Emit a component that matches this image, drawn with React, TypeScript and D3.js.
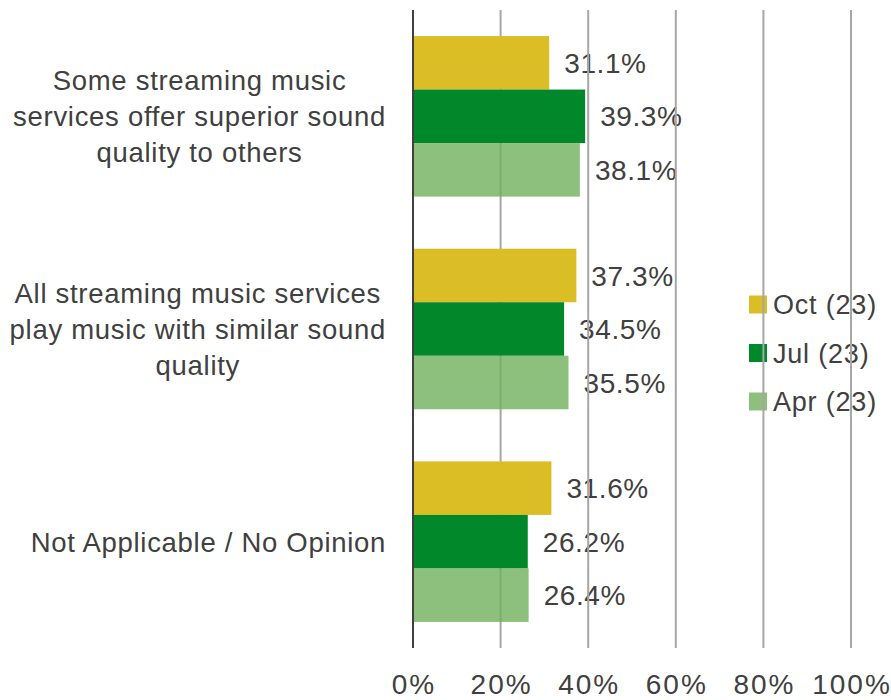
import React, { useEffect, useRef } from "react";
import * as d3 from "d3";

const categories = [
  ["Some streaming music", "services offer superior sound", "quality to others"],
  ["All streaming music services", "play music with similar sound", "quality"],
  ["Not Applicable / No Opinion"],
];
const seriesNames = ["Oct (23)", "Jul (23)", "Apr (23)"];
const octValues = [31.1, 37.3, 31.6];
const julValues = [39.3, 34.5, 26.2];
const aprValues = [38.1, 35.5, 26.4];
const tickValues = [0, 20, 40, 60, 80, 100];

const W = 891;
const H = 700;
const FONT = "'Liberation Sans', Arial, sans-serif";
const TEXT = "#404040";
const colors = ["#DBBD26", "#00882B", "#70B05C"];
const opac = [1, 1, 0.8];

export default function App() {
  const ref = useRef<SVGSVGElement>(null);
  useEffect(() => {
    const svg = d3.select(ref.current);
    svg.selectAll("*").remove();
    const values = [octValues, julValues, aprValues];
    const catIdx = categories.map((_, i) => String(i));
    const x = d3.scaleLinear().domain([0, 100]).range([413, 851]);
    const y = d3.scaleBand().domain(catIdx).range([10, 648]).paddingInner(0.245).paddingOuter(0.1225);
    const ys = d3.scaleBand().domain(seriesNames).range([0, y.bandwidth()]);

    svg.append("rect").attr("width", W).attr("height", H).attr("fill", "#fff");

    // legend
    const lg = svg.append("g");
    seriesNames.forEach((s, i) => {
      const cy = 304.5 + i * 48.5;
      lg.append("rect").attr("x", 749).attr("y", cy - 9).attr("width", 18).attr("height", 18)
        .attr("fill", colors[i]).attr("fill-opacity", opac[i]);
      lg.append("text").attr("x", 773).attr("y", cy).attr("dy", "0.36em")
        .attr("font-family", FONT).attr("font-size", 27).attr("letter-spacing", 0.8)
        .attr("fill", TEXT).text(s);
    });

    // category labels
    categories.forEach((lines, ci) => {
      const cy = (y(String(ci)) as number) + y.bandwidth() / 2;
      const g = svg.append("g");
      const texts = lines.map((ln, li) =>
        g.append("text")
          .attr("y", cy + (li - (lines.length - 1) / 2) * 36)
          .attr("dy", "0.36em")
          .attr("font-family", FONT).attr("font-size", 27.5).attr("letter-spacing", 0.7)
          .attr("fill", TEXT).attr("text-anchor", "middle").text(ln)
      );
      const widths = texts.map((t) => (t.node() as SVGTextElement).getComputedTextLength());
      const bw = Math.max(...widths);
      const right = 386;
      texts.forEach((t) => t.attr("x", right - bw / 2));
    });

    // data labels
    values.forEach((vals, si) => {
      vals.forEach((v, ci) => {
        const by = (y(String(ci)) as number) + (ys(seriesNames[si]) as number) + ys.bandwidth() / 2;
        svg.append("text").attr("x", x(v) + 15).attr("y", by).attr("dy", "0.36em")
          .attr("font-family", FONT).attr("font-size", 28).attr("letter-spacing", 0.6)
          .attr("fill", TEXT).text(v.toFixed(1) + "%");
      });
    });

    // gridlines
    svg.append("g").selectAll("line").data(tickValues.slice(1)).join("line")
      .attr("x1", (d) => x(d)).attr("x2", (d) => x(d))
      .attr("y1", 10).attr("y2", 648)
      .attr("stroke", "#A6A6A6").attr("stroke-width", 2);

    // bars
    values.forEach((vals, si) => {
      svg.append("g").selectAll("rect").data(vals).join("rect")
        .attr("x", x(0))
        .attr("y", (_, ci) => (y(String(ci)) as number) + (ys(seriesNames[si]) as number))
        .attr("width", (d) => x(d) - x(0))
        .attr("height", ys.bandwidth())
        .attr("fill", colors[si]).attr("fill-opacity", opac[si]);
    });

    // axis line
    svg.append("line").attr("x1", x(0)).attr("x2", x(0)).attr("y1", 10).attr("y2", 648)
      .attr("stroke", "#404040").attr("stroke-width", 2);

    // tick labels
    svg.append("g").selectAll("text").data(tickValues).join("text")
      .attr("x", (d) => x(d) + 1).attr("y", 694)
      .attr("text-anchor", "middle")
      .attr("font-family", FONT).attr("font-size", 28).attr("letter-spacing", 2)
      .attr("fill", TEXT).text((d) => d + "%");
  }, []);
  return (
    <svg ref={ref} width={W} height={H}
      style={{ position: "absolute", left: 0, top: 0, display: "block" }} />
  );
}
